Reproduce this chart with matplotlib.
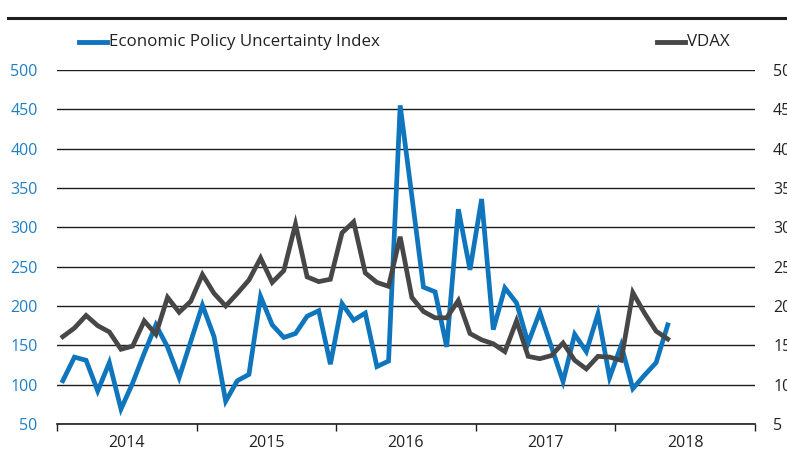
import matplotlib
matplotlib.use("Agg")
from matplotlib import pyplot as plt
from matplotlib.lines import Line2D
import numpy as np

# monthly values, Jan 2014 - May 2018
years = ["2014", "2015", "2016", "2017", "2018"]
epu = [105, 135, 131, 92, 128, 69, 102, 140, 176, 148, 109, 155,
       201, 161, 79, 105, 113, 212, 176, 160, 165, 187, 194, 126,
       203, 182, 191, 123, 130, 455, 340, 224, 218, 148, 323, 246,
       336, 170, 223, 204, 153, 192, 148, 104, 164, 142, 190, 109,
       150, 95, 112, 128, 176]
vdax = [16.1, 17.2, 18.8, 17.5, 16.7, 14.5, 14.9, 18.1, 16.4, 21.1, 19.2, 20.6,
        24.0, 21.6, 20.0, 21.6, 23.3, 26.1, 23.0, 24.5, 30.4, 23.7, 23.1, 23.4,
        29.3, 30.7, 24.2, 23.0, 22.5, 28.8, 21.1, 19.3, 18.5, 18.5, 20.7, 16.5,
        15.7, 15.2, 14.2, 18.1, 13.6, 13.3, 13.7, 15.3, 13.1, 12.0, 13.6, 13.5,
        13.1, 21.7, 19.1, 16.8, 15.8]

blue = "#0f75bc"
grey = "#474747"
lblue = "#1f7fc4"
plt.rcParams['font.family'] = ['Open Sans', 'DejaVu Sans']

fig = plt.figure(figsize=(7.87, 4.57), dpi=100)
ax = fig.add_axes([57/787, 1-424/457, (755-57)/787, (424-70)/457])
x = np.arange(len(epu)) + 0.5

ax.plot(x, epu, color=blue, lw=3.4, solid_joinstyle='miter', zorder=3)
ax.set_xlim(0, 60)
ax.set_ylim(50, 500)
ax.set_yticks(np.arange(50, 501, 50))
ax.grid(axis='y', color='#1e1e1e', lw=1.0)
ax.set_axisbelow(True)
for s in ['top', 'left', 'right']:
    ax.spines[s].set_visible(False)
ax.spines['bottom'].set_color('#1e1e1e')
ax.spines['bottom'].set_linewidth(1.2)
ax.tick_params(axis='y', length=0, pad=14, labelsize=11.5, labelcolor=lblue)
ax.set_xticks(np.arange(0, 61, 12))
ax.set_xticklabels([])
ax.set_xticks(np.arange(6, 60, 12), minor=True)
ax.set_xticklabels(years, minor=True)
ax.tick_params(axis='x', which='major', length=5, width=1.0, color='#1e1e1e')
ax.tick_params(axis='x', which='minor', length=0, pad=8, labelsize=11.5, labelcolor='#222222')

ax2 = ax.twinx()
ax2.plot(x, vdax, color=grey, lw=3.4, solid_joinstyle='miter', zorder=4)
ax2.set_ylim(5, 50)
ax2.set_yticks(np.arange(5, 51, 5))
for s in ax2.spines.values():
    s.set_visible(False)
ax2.tick_params(axis='y', length=0, pad=13, labelsize=11.5, labelcolor='#222222')

# top rule
fig.add_artist(Line2D([8/787, 1], [1-17.5/457, 1-17.5/457], color='#1e1e1e', lw=2.2))

# legend
ly = 1-42/457
fig.add_artist(Line2D([79/787, 107/787], [ly, ly], color=blue, lw=3.5))
fig.text(109/787, ly, "Economic Policy Uncertainty Index", fontsize=12.2,
         va='center', ha='left', color='#222222')
fig.add_artist(Line2D([657/787, 685/787], [ly, ly], color=grey, lw=3.5))
fig.text(687/787, ly, "VDAX", fontsize=12.2, va='center', ha='left', color='#222222')

fig.savefig("out.png", dpi=100)
